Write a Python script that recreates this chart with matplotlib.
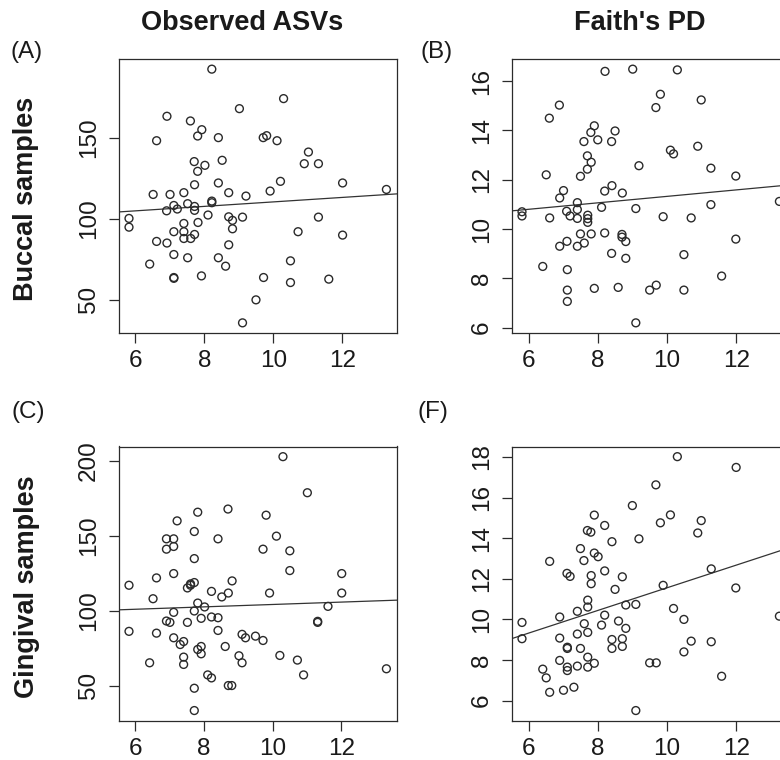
import numpy as np
import matplotlib
matplotlib.use("Agg")
import matplotlib.pyplot as plt

plt.rcParams['font.family'] = ['Liberation Sans', 'DejaVu Sans']

# ---------------- data ----------------
col_titles = ["Observed ASVs", "Faith's PD"]
row_titles = ["Buccal samples", "Gingival samples"]
panel_labels = ["(A)", "(B)", "(C)", "(F)"]

x_ticks = [6, 8, 10, 12]
y_ticks_A = [50, 100, 150]
y_ticks_B = [6, 8, 10, 12, 14, 16]
y_ticks_C = [50, 100, 150, 200]
y_ticks_F = [6, 8, 10, 12, 14, 16, 18]

x_A = [8.22, 10.30, 9.02, 6.92, 7.60, 7.93, 7.81, 6.62, 8.41, 9.71,
       9.81, 10.11, 11.02, 10.90, 11.31, 7.71, 8.02, 7.81, 8.52, 7.72,
       8.41, 10.21, 12.01, 6.52, 7.01, 7.41, 8.71, 9.21, 9.91, 7.12,
       7.52, 7.72, 7.72, 6.91, 7.22, 8.22, 8.22, 5.82, 5.82, 8.11,
       8.71, 8.82, 9.11, 11.31, 7.41, 7.82, 7.12, 7.41, 7.41, 7.61,
       7.72, 8.82, 10.72, 12.01, 6.62, 6.92, 8.71, 7.12, 7.52, 8.41,
       8.62, 6.42, 10.50, 7.12, 7.12, 7.92, 9.72, 10.50, 11.61, 9.50,
       9.11, 13.28]
y_A = [192.4, 174.2, 168.0, 163.3, 160.4, 155.0, 151.1, 148.2, 150.1, 150.1,
       151.3, 148.2, 141.2, 134.0, 134.0, 135.3, 133.0, 129.3, 136.1, 121.0,
       122.1, 123.1, 122.1, 115.0, 115.0, 116.1, 116.1, 114.0, 117.1, 108.2,
       109.3, 107.6, 105.2, 104.9, 106.0, 110.9, 109.9, 100.2, 94.8, 102.3,
       101.2, 99.0, 101.0, 101.0, 97.1, 97.7, 92.0, 92.0, 87.8, 87.8,
       90.3, 93.8, 92.0, 89.9, 86.0, 85.0, 83.9, 77.9, 75.9, 75.9,
       70.7, 72.0, 74.0, 63.7, 63.2, 64.7, 63.7, 60.6, 62.7, 49.9,
       35.7, 118.1]

x_B = [8.21, 9.01, 10.30, 9.81, 9.68, 10.99, 6.89, 6.60, 7.90, 7.80,
       8.50, 7.60, 8.00, 8.40, 10.10, 10.19, 10.89, 7.70, 7.81, 7.70,
       9.19, 11.27, 11.99, 6.51, 7.50, 8.41, 8.20, 8.71, 7.01, 6.90,
       7.41, 8.11, 9.10, 11.27, 13.25, 5.81, 5.81, 6.61, 7.10, 7.20,
       7.41, 7.41, 7.71, 7.71, 7.71, 9.89, 10.70, 7.50, 7.81, 8.20,
       8.70, 8.70, 8.81, 7.11, 6.90, 7.41, 7.61, 11.99, 8.40, 8.81,
       10.49, 6.41, 7.12, 11.58, 7.12, 7.90, 8.59, 9.50, 9.69, 10.49,
       7.12, 9.10]
y_B = [16.40, 16.49, 16.46, 15.47, 14.93, 15.24, 15.03, 14.50, 14.19, 13.92,
       13.98, 13.55, 13.62, 13.55, 13.20, 13.05, 13.36, 12.97, 12.71, 12.43,
       12.57, 12.47, 12.15, 12.20, 12.14, 11.76, 11.54, 11.46, 11.56, 11.26,
       11.07, 10.88, 10.83, 10.99, 11.12, 10.70, 10.53, 10.45, 10.72, 10.53,
       10.79, 10.43, 10.56, 10.42, 10.27, 10.50, 10.45, 9.80, 9.80, 9.84,
       9.78, 9.67, 9.49, 9.50, 9.30, 9.30, 9.43, 9.59, 9.01, 8.81,
       8.96, 8.48, 8.35, 8.09, 7.52, 7.59, 7.63, 7.52, 7.72, 7.52,
       7.06, 6.19]

x_C = [10.30, 11.01, 8.70, 7.82, 9.81, 7.22, 7.72, 10.11, 6.91, 7.12,
       8.41, 6.91, 7.12, 9.72, 10.50, 7.72, 10.50, 12.01, 6.62, 7.12,
       5.82, 7.52, 7.61, 7.72, 7.61, 8.82, 8.22, 8.52, 8.71, 9.91,
       12.01, 6.52, 7.82, 8.02, 11.61, 7.12, 7.72, 6.91, 7.01, 7.52,
       7.92, 8.22, 8.41, 11.31, 11.31, 5.82, 6.62, 8.41, 7.12, 7.41,
       7.31, 9.11, 9.21, 9.50, 9.72, 7.92, 7.82, 7.92, 8.62, 6.42,
       7.41, 7.41, 9.02, 9.11, 10.21, 10.72, 10.90, 8.11, 8.22, 8.71,
       8.81, 7.72, 7.72, 13.31]
y_C = [202.9, 178.8, 167.9, 165.8, 163.8, 160.0, 152.9, 149.8, 148.0, 148.0,
       148.0, 141.1, 142.9, 141.1, 140.0, 134.8, 126.8, 124.8, 121.9, 124.8,
       117.0, 115.2, 117.0, 118.8, 117.9, 119.9, 112.9, 109.2, 111.8, 111.8,
       111.8, 108.0, 105.1, 102.5, 102.9, 98.9, 99.8, 93.1, 92.2, 92.2,
       94.9, 95.8, 95.3, 92.9, 92.2, 86.2, 85.0, 86.8, 81.9, 79.4,
       77.4, 84.2, 81.9, 83.0, 80.1, 76.1, 74.1, 71.2, 76.1, 65.2,
       69.0, 64.1, 69.9, 65.2, 70.1, 67.0, 57.1, 57.1, 55.1, 50.0,
       50.0, 48.2, 33.3, 61.2]

x_F = [10.30, 12.00, 9.68, 9.00, 7.90, 8.20, 7.70, 7.80, 9.81, 10.10,
       10.99, 10.89, 8.41, 9.19, 7.50, 7.90, 8.01, 7.60, 6.61, 7.11,
       7.20, 7.81, 8.20, 8.71, 11.28, 7.81, 8.50, 9.89, 11.99, 7.71,
       7.71, 7.41, 6.90, 8.20, 8.81, 9.10, 10.19, 10.49, 13.25, 5.81,
       5.81, 7.61, 8.11, 8.60, 8.81, 7.41, 7.71, 6.90, 7.12, 7.12,
       7.50, 8.41, 8.71, 8.41, 8.71, 10.70, 11.28, 10.49, 6.90, 7.71,
       7.90, 7.71, 7.41, 7.12, 7.12, 6.41, 6.51, 9.50, 9.69, 11.58,
       6.61, 7.01, 7.31, 9.10]
y_F = [18.02, 17.49, 16.63, 15.61, 15.14, 14.63, 14.38, 14.30, 14.76, 15.15,
       14.87, 14.26, 13.83, 13.97, 13.49, 13.27, 13.09, 12.90, 12.86, 12.27,
       12.12, 12.16, 12.39, 12.10, 12.49, 11.76, 11.48, 11.68, 11.55, 10.95,
       10.61, 10.40, 10.12, 10.21, 10.71, 10.74, 10.54, 10.00, 10.16, 9.85,
       9.05, 9.79, 9.72, 9.92, 9.56, 9.28, 9.36, 9.08, 8.63, 8.57,
       8.57, 9.01, 9.05, 8.57, 8.67, 8.93, 8.90, 8.40, 7.98, 8.14,
       7.84, 7.65, 7.70, 7.65, 7.48, 7.55, 7.12, 7.86, 7.86, 7.20,
       6.41, 6.51, 6.66, 5.51]

# ---------------- figure ----------------
W, H = 780, 760
fig = plt.figure(figsize=(W / 100, H / 100), dpi=100)
fig.patch.set_facecolor("white")

def frac(left, top, right, bottom):
    return [left / W, 1 - bottom / H, (right - left) / W, (bottom - top) / H]

panels = [
    (frac(118.7, 59, 396.7, 333), x_A, y_A, y_ticks_A),
    (frac(511.7, 59, 789.7, 333), x_B, y_B, y_ticks_B),
    (frac(118.7, 446.5, 396.7, 720.7), x_C, y_C, y_ticks_C),
    (frac(511.7, 446.5, 789.7, 720.7), x_F, y_F, y_ticks_F),
]

ink = "#2b2b2b"
for rect, xs, ys, yt in panels:
    ax = fig.add_axes(rect)
    xs = np.asarray(xs); ys = np.asarray(ys)
    ax.scatter(xs, ys, s=32, facecolors="none", edgecolors="#2a2a2a",
               linewidths=1.0, zorder=3)
    xr = xs.max() - xs.min(); yr = ys.max() - ys.min()
    ax.set_xlim(xs.min() - 0.04 * xr, xs.max() + 0.04 * xr)
    ax.set_ylim(ys.min() - 0.04 * yr, ys.max() + 0.04 * yr)
    slope, icpt = np.polyfit(xs, ys, 1)
    ax.axline((0, icpt), slope=slope, color="#333333", lw=0.9, zorder=2)
    ax.set_xticks(x_ticks)
    ax.set_yticks(yt)
    ax.tick_params(direction="out", length=7.5, width=0.9, color=ink,
                   labelsize=17.5, labelcolor="#1a1a1a", pad=5)
    ax.tick_params(axis="y", pad=6)
    for lab in ax.get_yticklabels():
        lab.set_rotation(90)
        lab.set_va("center")
    for sp in ax.spines.values():
        sp.set_color(ink)
        sp.set_linewidth(0.9)

# titles
fig.text(241.7 / W, 1 - 23 / H, col_titles[0], ha="center", va="center",
         fontsize=19.5, fontweight="bold", color="#1a1a1a")
fig.text(640 / W, 1 - 23 / H, col_titles[1], ha="center", va="center",
         fontsize=19.5, fontweight="bold", color="#1a1a1a")
fig.text(26.5 / W, 1 - 199 / H, row_titles[0], ha="center", va="center",
         rotation=90, fontsize=19.5, fontweight="bold", color="#1a1a1a")
fig.text(27 / W, 1 - 586.5 / H, row_titles[1], ha="center", va="center",
         rotation=90, fontsize=19.5, fontweight="bold", color="#1a1a1a")

# panel labels
for lab, (px, py) in zip(panel_labels,
                         [(27, 52), (436.7, 52), (28, 412), (433, 412)]):
    fig.text(px / W, 1 - py / H, lab, ha="center", va="center",
             fontsize=17.5, color="#1a1a1a")

fig.savefig("out.png", dpi=100)
